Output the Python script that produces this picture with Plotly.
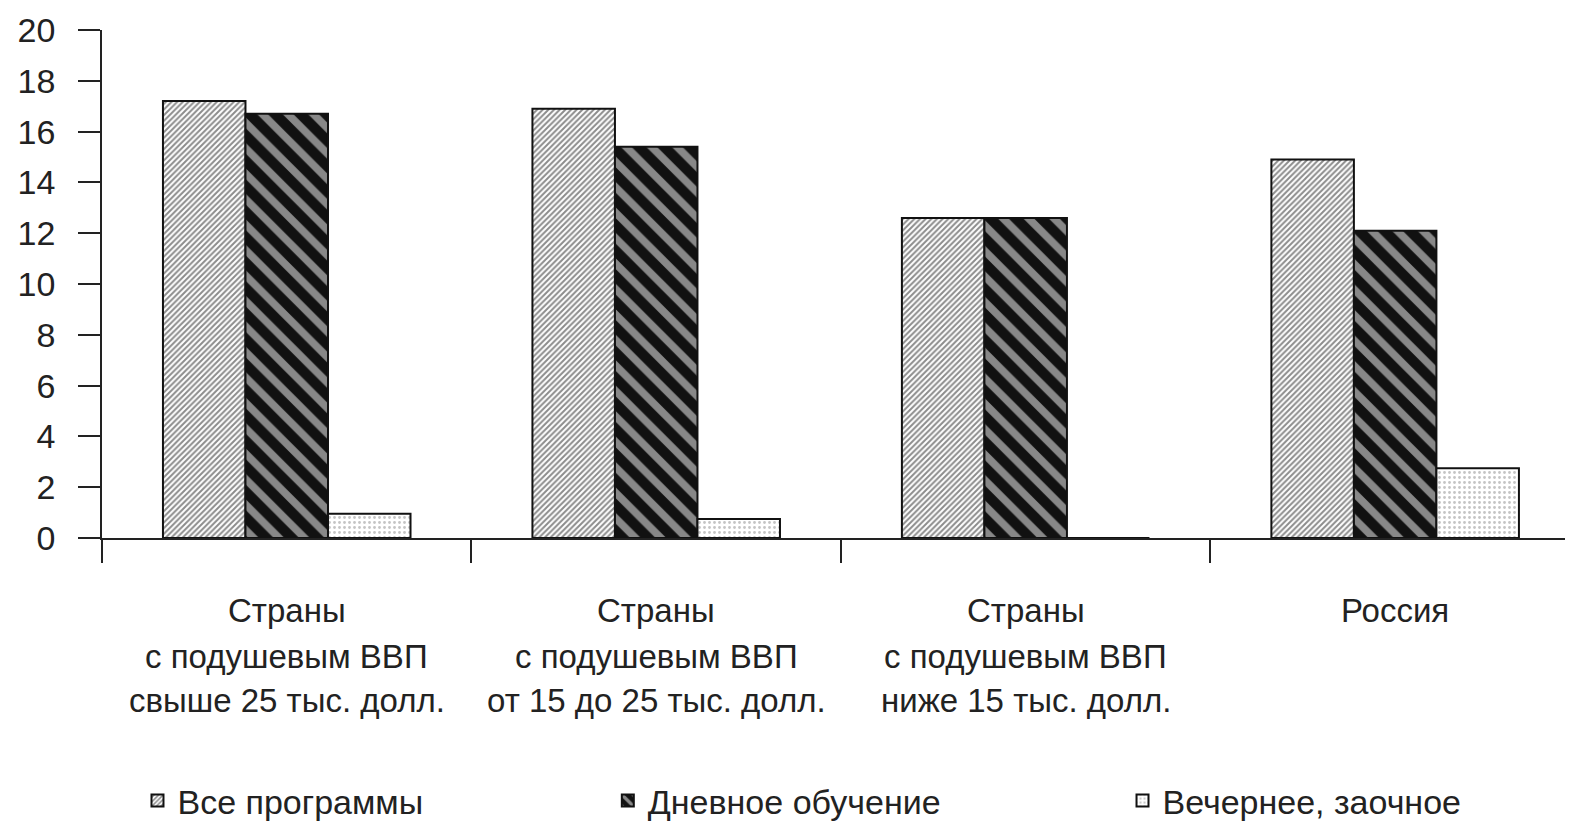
import plotly.graph_objects as go

categories = [
    "Страны\nс подушевым ВВП\nсвыше 25 тыс. долл.",
    "Страны\nс подушевым ВВП\nот 15 до 25 тыс. долл.",
    "Страны\nс подушевым ВВП\nниже 15 тыс. долл.",
    "Россия",
]
series_names = ["Все программы", "Дневное обучение", "Вечернее, заочное"]
all_programs = [17.2, 16.9, 12.6, 14.9]
day_study = [16.7, 15.4, 12.6, 12.1]
evening_extramural = [0.95, 0.75, 0, 2.75]
y_ticks = [0, 2, 4, 6, 8, 10, 12, 14, 16, 18, 20]

FONT = "Liberation Sans, Arial, Helvetica, sans-serif"
TXT = "#222222"

cat_ids = list(range(len(categories)))

patterns = [
    dict(shape="/", fgcolor="#1a1a1a", bgcolor="white", size=4, solidity=0.5),
    dict(shape="\\", fgcolor="white", bgcolor="#111111", size=18, solidity=0.42),
    dict(shape=".", fgcolor="#8a8a8a", bgcolor="white", size=5, solidity=0.25),
]
bg = ["white", "#111111", "white"]
values = [all_programs, day_study, evening_extramural]
legend_ids = ["legend", "legend2", "legend3"]

fig = go.Figure()
for name, vals, pat, b, lg in zip(series_names, values, patterns, bg, legend_ids):
    fig.add_trace(go.Bar(
        x=cat_ids, y=vals, name=name,
        marker=dict(color=b, pattern=pat, line=dict(color="#111111", width=2)),
        legend=lg,
    ))

# category labels (multi-line) as annotations
line_y = [-0.1426, -0.2324, -0.3203]
for ci, label in enumerate(categories):
    for li, line in enumerate(label.split("\n")):
        fig.add_annotation(
            x=ci, y=line_y[li], xref="x", yref="paper",
            text=line, showarrow=False, xanchor="center", yanchor="middle",
            font=dict(family=FONT, size=33, color=TXT),
        )

legend_common = dict(
    orientation="h", yanchor="middle", y=-0.519, xanchor="left",
    font=dict(family=FONT, size=34, color=TXT), bgcolor="rgba(0,0,0,0)",
)

fig.update_layout(
    width=1573, height=822,
    margin=dict(l=94, r=0, t=22, b=288),
    paper_bgcolor="white", plot_bgcolor="white",
    barmode="group", bargap=0.33, bargroupgap=0,
    showlegend=True,
    legend=dict(x=0.024, **legend_common),
    legend2=dict(x=0.342, **legend_common),
    legend3=dict(x=0.69, **legend_common),
    font=dict(family=FONT, color=TXT),
)
fig.update_xaxes(
    type="linear", range=[-0.5, 3.503],
    tickmode="array", tickvals=[-0.5, 0.5, 1.5, 2.5], ticktext=["", "", "", ""],
    ticks="outside", ticklen=23, tickwidth=1.5, tickcolor="#222222",
    showline=True, linecolor="#222222", linewidth=2,
    showgrid=False, zeroline=False,
)
fig.update_yaxes(
    range=[0, 20], tickmode="array", tickvals=y_ticks,
    ticks="outside", ticklen=22, tickwidth=1.5, tickcolor="#222222",
    ticklabelstandoff=16,
    tickfont=dict(family=FONT, size=34, color=TXT),
    showline=True, linecolor="#222222", linewidth=1.5,
    showgrid=False, zeroline=False,
)

fig.write_html("out.html")
